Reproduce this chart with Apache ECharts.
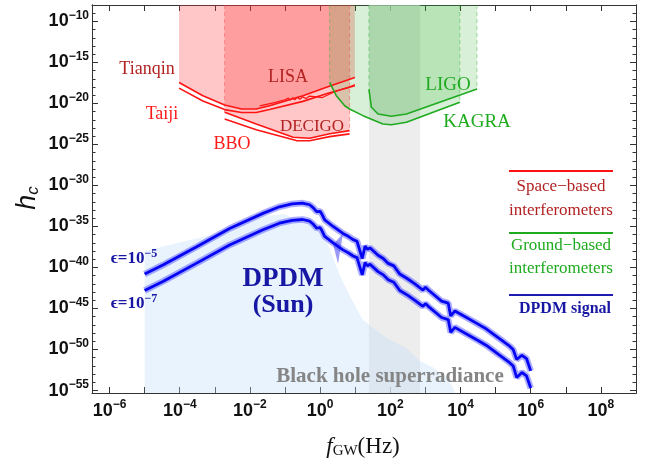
<!DOCTYPE html>
<html>
<head>
<meta charset="utf-8">
<script src="https://cdn.jsdelivr.net/npm/echarts@6/dist/echarts.min.js"></script>
<style>
html, body { margin: 0; padding: 0; background: #fff; }
#chart { width: 662px; height: 465px; }
</style>
</head>
<body>
<div id="chart"></div>
<script>
// every value is a log10: x = log10(f_GW / Hz), y = log10(h_c)
var xRange = [-6.5, 9];
var yRange = [-55.3, -8];
var xTickLabels = [-6, -4, -2, 0, 2, 4, 6, 8];
var yTickLabels = [-55, -50, -45, -40, -35, -30, -25, -20, -15, -10];

// space-based detectors (curves = lower edge of the shaded sensitivity region)
var tianqin = [[-4.02, -17.44], [-3.34, -19.06], [-2.72, -20.19], [-2.24, -20.68], [-1.82, -20.68],
    [-1.44, -20.28], [-0.49, -19.06], [0.2, -18.0], [0.99, -16.83]];
var taiji = [[-4.02, -18.13], [-3.34, -19.7], [-2.72, -20.75], [-2.24, -21.1], [-1.82, -21.1],
    [-1.44, -20.75], [-0.49, -19.75], [0.2, -18.8], [0.99, -17.85]];
var lisa = [[-1.72, -20.3], [-1.3, -19.9], [-1.0, -19.55], [-0.9, -19.35], [-0.85, -19.6], [-0.78, -19.3],
    [-0.72, -19.55], [-0.65, -19.25], [-0.58, -19.5], [-0.5, -19.2], [-0.4, -19.4], [-0.3, -19.1],
    [-0.1, -19.2], [0.05, -19.3], [0.2, -19.0], [0.4, -18.6], [0.6, -18.3], [0.8, -18.05], [0.99, -17.7]];
var decigo = [[-2.72, -21.08], [-1.82, -22.5], [-0.77, -24.12], [-0.3, -24.24], [0.27, -23.7], [0.84, -23.31]];
var bbo = [[-2.72, -21.89], [-1.82, -23.2], [-0.68, -24.53], [-0.3, -24.55], [0.27, -24.05], [0.84, -23.71]];

// ground-based detectors
var kagra = [[0.27, -17.44], [0.46, -19.06], [0.70, -20.28], [0.84, -20.68], [1.22, -21.49], [1.79, -22.5],
    [2.03, -22.6], [2.46, -22.3], [3.98, -19.87]];
var ligo = [[1.39, -18.25], [1.46, -20.47], [1.65, -21.29], [2.03, -21.57], [2.46, -21.29], [4.47, -18.25]];

// grey excluded band
var greyBand = [1.39, 2.85];

// black hole superradiance (upper edge)
var bhSuper = [[-5.0, -38.0], [-2.7, -35.6], [-1.6, -33.7], [-1.0, -33.5], [-0.6, -34.4], [-0.3, -34.6],
    [0.0, -35.6], [0.2, -37.0], [0.4, -39.2], [0.6, -41.3], [0.85, -43.5], [1.05, -45.1], [1.2, -46.3],
    [1.41, -47.0], [1.89, -48.6], [2.46, -49.8], [2.84, -51.4], [3.22, -52.2], [3.6, -53.4], [3.79, -54.7],
    [3.84, -55.3]];

// DPDM signal, epsilon = 1e-5 and 1e-7
var dpdmE5 = [[-5.0, -40.8], [-4.48, -39.7], [-3.53, -37.5], [-2.58, -35.25], [-1.63, -33.4], [-1.16, -32.6],
    [-0.8, -32.25], [-0.5, -32.15], [-0.3, -32.35], [-0.2, -32.7], [-0.1, -33.2], [0.0, -33.15], [0.05, -33.5],
    [0.13, -34.2], [0.37, -35.0], [0.65, -35.85], [0.8, -36.2], [0.85, -36.0], [0.94, -36.6], [1.05, -36.8],
    [1.1, -36.6], [1.2, -38.9], [1.28, -37.4], [1.35, -37.8], [1.42, -37.6], [1.65, -38.5], [1.8, -38.9],
    [1.94, -39.5], [2.1, -39.8], [2.27, -40.8], [2.5, -41.4], [2.7, -42.0], [2.93, -42.75], [3.0, -42.4],
    [3.1, -42.8], [3.46, -44.1], [3.65, -44.35], [3.72, -45.9], [3.84, -45.3], [4.17, -46.1], [4.5, -46.9],
    [4.74, -47.5], [5.12, -48.7], [5.4, -49.6], [5.5, -50.0], [5.6, -51.2], [5.75, -50.7], [5.88, -51.1],
    [6.0, -52.6]];
var dpdmE7 = [[-5.0, -42.8], [-4.48, -41.7], [-3.53, -39.5], [-2.58, -37.25], [-1.63, -35.4], [-1.16, -34.6],
    [-0.8, -34.25], [-0.5, -34.15], [-0.3, -34.35], [-0.2, -34.7], [-0.1, -35.2], [0.0, -35.15], [0.05, -35.5],
    [0.13, -36.2], [0.37, -37.0], [0.65, -37.85], [0.8, -38.2], [0.85, -38.0], [0.94, -38.6], [1.05, -38.8],
    [1.1, -38.6], [1.2, -40.9], [1.28, -39.4], [1.35, -39.8], [1.42, -39.6], [1.65, -40.5], [1.8, -40.9],
    [1.94, -41.5], [2.1, -41.8], [2.27, -42.8], [2.5, -43.4], [2.7, -44.0], [2.93, -44.75], [3.0, -44.4],
    [3.1, -44.8], [3.46, -46.1], [3.65, -46.35], [3.72, -47.9], [3.84, -47.3], [4.17, -48.1], [4.5, -48.9],
    [4.74, -49.5], [5.12, -50.7], [5.4, -51.6], [5.5, -52.0], [5.6, -53.4], [5.75, -52.8], [5.88, -53.2],
    [6.0, -54.7]];
// shaded uncertainty notch just past the peak
var dpdmNotch = [[0.37, -37.2], [0.51, -39.5], [0.65, -35.9]];

function range(a, b) {
    var out = [];
    for (var i = a; i <= b; i++) out.push(i);
    return out;
}
var xTicks = range(-6, 9);
var yMinorTicks = range(-55, -8);

var serif = '"Liberation Serif", "Times New Roman", serif';
var sans = '"Liberation Sans", Arial, sans-serif';

function powLabel(v) {
    var e = v < 0 ? '\u2212' + (-v) : String(v);
    return '{b|10}{s|' + e + '}';
}
var tickRich = {
    b: { fontFamily: sans, fontWeight: 'bold', fontSize: 18, lineHeight: 18, color: '#111' },
    s: { fontFamily: sans, fontWeight: 'bold', fontSize: 12, lineHeight: 12, color: '#111', padding: [0, 0, 12, 0] }
};
var axisColor = '#333';

function xAxisDef(pos, labels) {
    return {
        type: 'value', min: xRange[0], max: xRange[1], position: pos,
        axisLine: { onZero: false, lineStyle: { color: axisColor, width: 1 } },
        axisTick: { inside: true, length: 6, customValues: xTicks, lineStyle: { color: axisColor } },
        axisLabel: labels ? { customValues: xTickLabels, formatter: powLabel, margin: 9, rich: tickRich } : { show: false },
        splitLine: { show: false }
    };
}
function yAxisDef(pos, ticks, len, labels) {
    return {
        type: 'value', min: yRange[0], max: yRange[1], position: pos,
        axisLine: { onZero: false, lineStyle: { color: axisColor, width: 1 } },
        axisTick: { inside: true, length: len, customValues: ticks, lineStyle: { color: axisColor } },
        axisLabel: labels ? { customValues: yTickLabels, formatter: powLabel, margin: 3, rich: tickRich } : { show: false },
        splitLine: { show: false }
    };
}

function region(data, color, origin) {
    return {
        type: 'line', data: data, symbol: 'none', silent: true,
        lineStyle: { width: 0 }, areaStyle: { color: color, origin: origin }
    };
}
function curve(data, color, width) {
    return {
        type: 'line', data: data, symbol: 'none', silent: true,
        lineStyle: { color: color, width: width }
    };
}
// dashed vertical edges of a shaded detector region (from the top down to the curve ends)
function edges(data, color) {
    var first = data[0], last = data[data.length - 1];
    return [first, last].map(function (p) {
        return {
            type: 'line', data: [[p[0], yRange[1]], [p[0], p[1]]], symbol: 'none', silent: true,
            lineStyle: { color: color, width: 1, type: [4, 3] }
        };
    });
}

var red = '#ff1414';
var redFill = 'rgba(255,55,55,0.4)';
var green = '#1faa1f';
var greenFill = 'rgba(50,175,50,0.27)';
var blue = '#0505f2';
var halo = 'rgba(70,70,255,0.45)';

var series = [
    region([[greyBand[0], yRange[1]], [greyBand[1], yRange[1]]], '#e6e6e6', 'start'),
    region(bhSuper, 'rgba(190,222,250,0.5)', 'start'),
    region(tianqin, redFill, 'end'),
    region(decigo, redFill, 'end'),
    region(kagra, greenFill, 'end'),
    region(ligo, greenFill, 'end')
]
.concat(edges(decigo, 'rgba(240,90,90,0.55)'))
.concat(edges(kagra, 'rgba(60,180,60,0.45)'))
.concat(edges(ligo, 'rgba(60,180,60,0.45)'))
.concat([
    curve(tianqin, red, 1.6),
    curve(taiji, red, 1.6),
    curve(lisa, red, 1.2),
    curve(decigo, red, 1.6),
    curve(bbo, red, 1.6),
    curve(kagra, green, 1.6),
    curve(ligo, green, 1.6),
    {
        type: 'custom', data: [0], silent: true,
        renderItem: function (params, api) {
            return {
                type: 'polygon',
                shape: { points: dpdmNotch.map(function (p) { return api.coord(p); }) },
                style: { fill: 'rgba(70,70,240,0.55)' }
            };
        }
    },
    curve(dpdmE5, halo, 6.5),
    curve(dpdmE7, halo, 6.5),
    curve(dpdmE5, blue, 2.8),
    curve(dpdmE7, blue, 2.8)
]);

function label(text, x, y, color, size, weight) {
    return {
        type: 'text', x: x, y: y, z: 100, silent: true,
        style: {
            text: text, fill: color, font: (weight || 'normal') + ' ' + size + 'px ' + serif,
            align: 'center', verticalAlign: 'middle'
        }
    };
}
function legendLine(y, color) {
    return {
        type: 'line', z: 100, silent: true,
        shape: { x1: 509, y1: y, x2: 613, y2: y },
        style: { stroke: color, lineWidth: 2 }
    };
}
function epsLabel(exp, x, y) {
    return {
        type: 'text', x: x, y: y, z: 100, silent: true,
        style: {
            text: '{b|\u03f5=10}{s|\u2212' + exp + '}', align: 'center', verticalAlign: 'middle',
            rich: {
                b: { fontFamily: serif, fontWeight: 'bold', fontSize: 17, lineHeight: 17, fill: navy },
                s: { fontFamily: serif, fontWeight: 'bold', fontSize: 12, lineHeight: 12, fill: navy, padding: [0, 0, 11, 0] }
            }
        }
    };
}

var darkRed = '#b22222';
var brightRed = '#ff1a1a';
var navy = '#1717a3';

var graphic = [
    label('Tianqin', 147, 69, darkRed, 18),
    label('Taiji', 162, 114, brightRed, 18),
    label('BBO', 232, 144, brightRed, 18),
    label('LISA', 288, 77, darkRed, 18),
    label('DECIGO', 312, 127, darkRed, 17),
    label('LIGO', 448, 85, green, 19),
    label('KAGRA', 477, 122, green, 19),
    legendLine(171, red),
    label('Space\u2212based', 561, 187, darkRed, 17),
    label('interferometers', 561, 211, darkRed, 17),
    legendLine(233, green),
    label('Ground\u2212based', 561, 246, green, 17),
    label('interferometers', 561, 269, green, 17),
    legendLine(295, '#1c1cb0'),
    label('DPDM signal', 565, 309, navy, 16, 'bold'),
    label('DPDM', 283, 279, navy, 27, 'bold'),
    label('(Sun)', 283, 305, navy, 26, 'bold'),
    label('Black hole superradiance', 390, 377, '#858585', 21, 'bold'),
    epsLabel(5, 134, 259),
    epsLabel(7, 134, 304),
    {
        type: 'text', x: 27, y: 198, z: 100, rotation: Math.PI / 2, silent: true,
        style: {
            text: '{h|h}{c|c}', align: 'center', verticalAlign: 'middle',
            rich: {
                h: { fontFamily: sans, fontStyle: 'italic', fontSize: 27, fill: '#111' },
                c: { fontFamily: sans, fontStyle: 'italic', fontSize: 17, fill: '#111', padding: [12, 0, 0, 0] }
            }
        }
    },
    {
        type: 'text', x: 363, y: 447, z: 100, silent: true,
        style: {
            text: '{f|f}{g|GW}{h|(Hz)}', align: 'center', verticalAlign: 'middle',
            rich: {
                f: { fontFamily: serif, fontStyle: 'italic', fontSize: 23, fill: '#111' },
                g: { fontFamily: serif, fontSize: 15, fill: '#111', padding: [9, 0, 0, 0] },
                h: { fontFamily: serif, fontSize: 23, fill: '#111' }
            }
        }
    }
];

var chart = echarts.init(document.getElementById('chart'), null, { renderer: 'canvas' });
chart.setOption({
    animation: false,
    backgroundColor: '#fff',
    grid: { left: 92, right: 26, top: 5, bottom: 72 },
    xAxis: [xAxisDef('bottom', true), xAxisDef('top', false)],
    yAxis: [
        yAxisDef('left', yTickLabels, 6, true),
        yAxisDef('left', yMinorTicks, 3.5, false),
        yAxisDef('right', yTickLabels, 6, false),
        yAxisDef('right', yMinorTicks, 3.5, false)
    ],
    series: series,
    graphic: graphic
});
</script>
</body>
</html>
